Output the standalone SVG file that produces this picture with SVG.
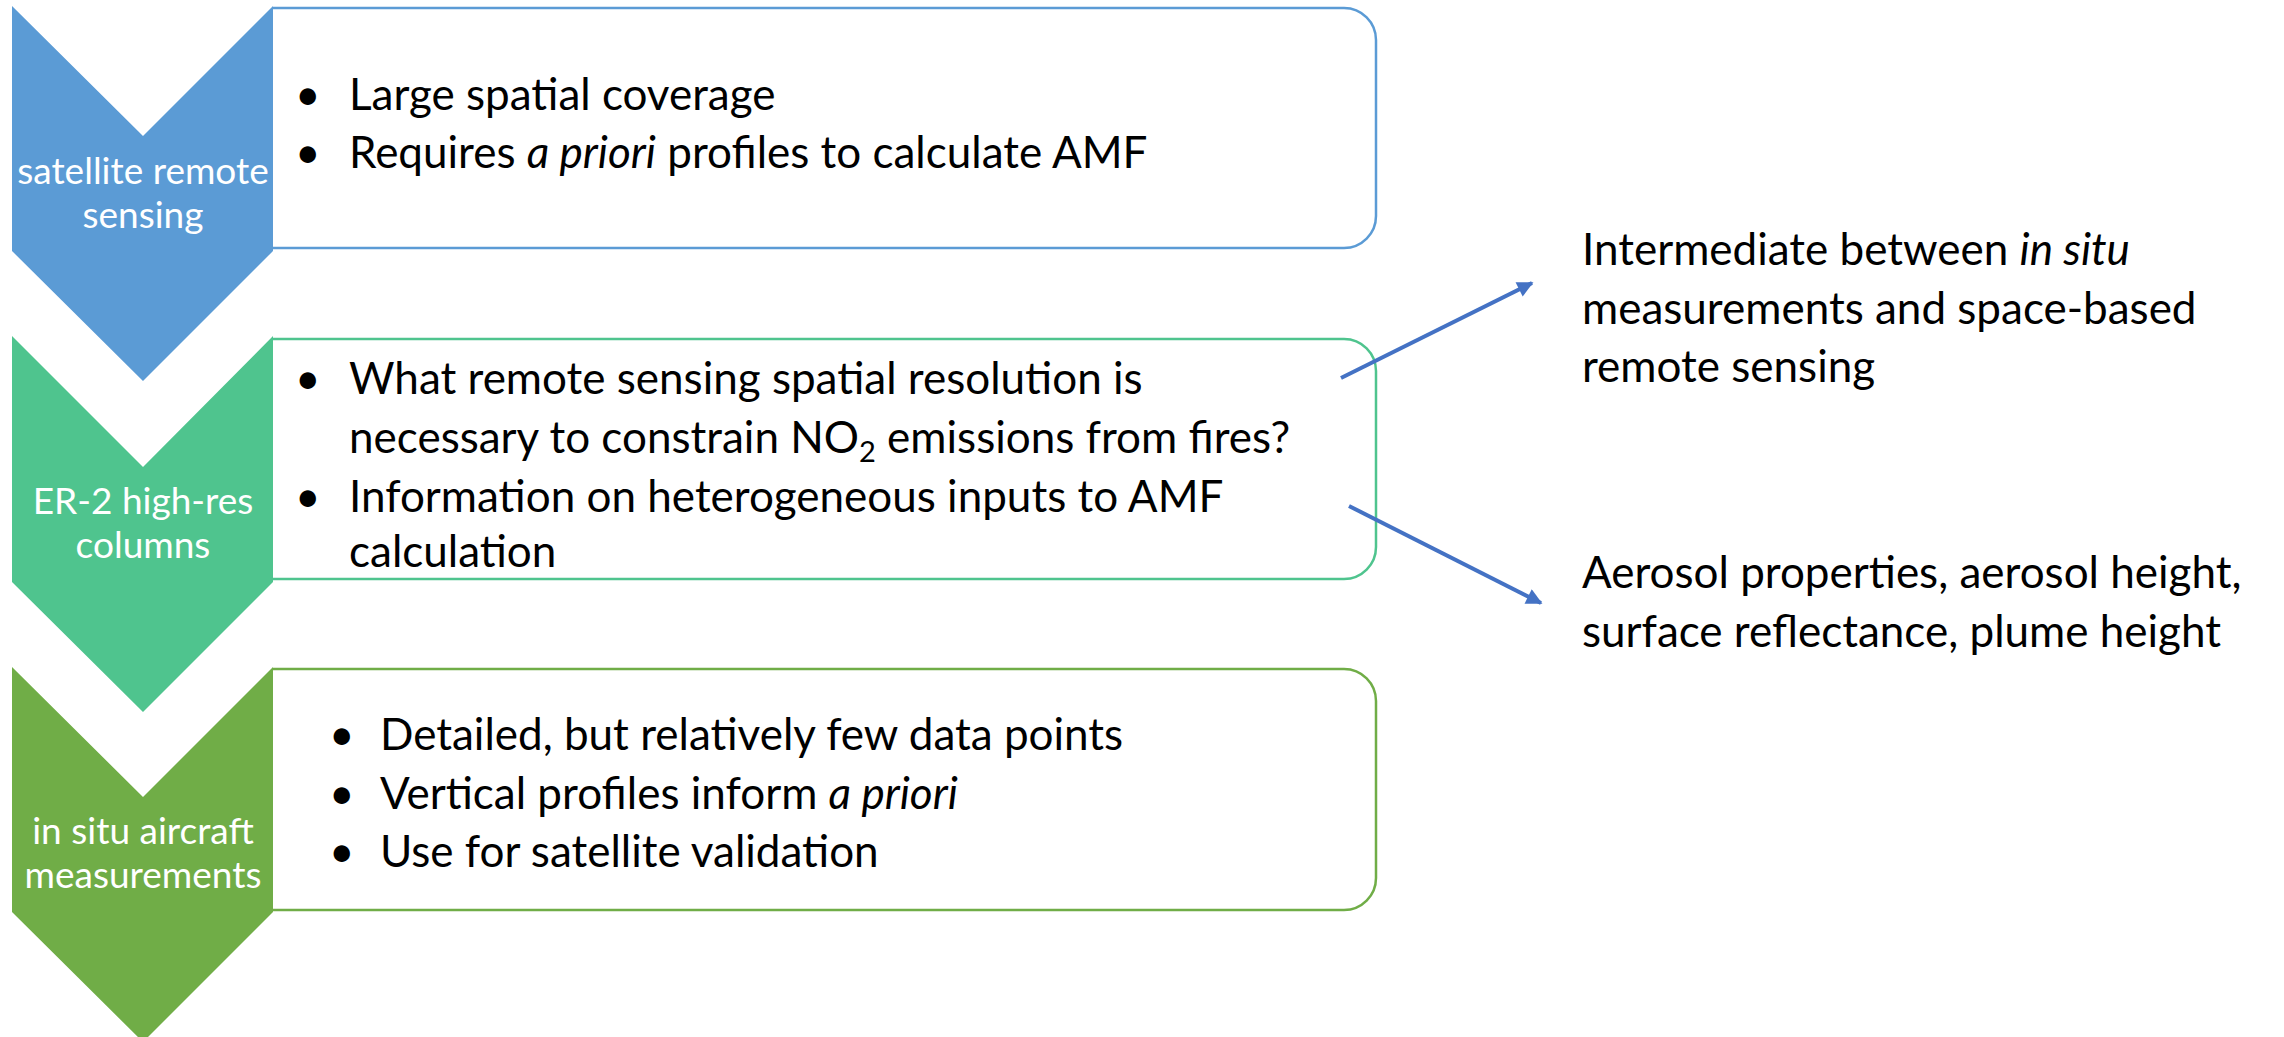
<svg xmlns="http://www.w3.org/2000/svg" width="2284" height="1037" viewBox="0 0 2284 1037">
<defs>
<style>
.body{font-family:Lato,"Open Sans","Liberation Sans",sans-serif;font-size:44px;fill:#000}
.lbl{font-family:Lato,"Open Sans","Liberation Sans",sans-serif;font-size:37px;fill:#fff;text-anchor:middle}
.box{fill:#fff;stroke-width:2.5}
.conn{stroke:#4472C4;stroke-width:4;fill:none;marker-end:url(#ah)}
</style>
<marker id="ah" viewBox="0 0 10 10" refX="9" refY="5" markerWidth="4.5" markerHeight="4" orient="auto" markerUnits="strokeWidth">
<path d="M0,0 L10,5 L0,10 z" fill="#4472C4"/>
</marker>
</defs>
<rect width="2284" height="1037" fill="#fff"/>

<g id="node-satellite">
<path class="box" stroke="#5B9BD5" d="M273,8 H1344 A32,32 0 0 1 1376,40 V216 A32,32 0 0 1 1344,248 H273"/>
<polygon fill="#5B9BD5" points="12,6 143,136 273,6 273,251 143,381 12,251"/>
<text class="lbl" x="143" y="184">satellite remote</text>
<text class="lbl" x="143" y="228">sensing</text>
<text class="body" x="295" y="110">•</text>
<text class="body" x="349" y="110">Large spatial coverage</text>
<text class="body" x="295" y="168">•</text>
<text class="body" x="349" y="168">Requires <tspan font-style="italic">a priori</tspan> profiles to calculate AMF</text>
</g>

<g id="node-er2">
<path class="box" stroke="#4FC48E" d="M273,339 H1344 A32,32 0 0 1 1376,371 V547 A32,32 0 0 1 1344,579 H273"/>
<polygon fill="#4FC48E" points="12,336 143,467 273,336 273,582 143,712 12,582"/>
<text class="lbl" x="143" y="514">ER-2 high-res</text>
<text class="lbl" x="143" y="558">columns</text>
<text class="body" x="295" y="394">•</text>
<text class="body" x="349" y="394">What remote sensing spatial resolution is</text>
<text class="body" x="349" y="453">necessary to constrain NO<tspan font-size="29" dy="9">2</tspan><tspan dy="-9"> emissions from fires?</tspan></text>
<text class="body" x="295" y="512">•</text>
<text class="body" x="349" y="512">Information on heterogeneous inputs to AMF</text>
<text class="body" x="349" y="567">calculation</text>
</g>

<g id="node-insitu">
<path class="box" stroke="#70AD47" d="M273,669 H1344 A32,32 0 0 1 1376,701 V878 A32,32 0 0 1 1344,910 H273"/>
<polygon fill="#70AD47" points="12,667 143,797 273,667 273,912 143,1042 12,912"/>
<text class="lbl" x="143" y="844">in situ aircraft</text>
<text class="lbl" x="143" y="888">measurements</text>
<text class="body" x="329" y="750">•</text>
<text class="body" x="380" y="750">Detailed, but relatively few data points</text>
<text class="body" x="329" y="809">•</text>
<text class="body" x="380" y="809">Vertical profiles inform <tspan font-style="italic">a priori</tspan></text>
<text class="body" x="329" y="867">•</text>
<text class="body" x="380" y="867">Use for satellite validation</text>
</g>

<g id="node-intermediate">
<text class="body" x="1582" y="265">Intermediate between <tspan font-style="italic">in situ</tspan></text>
<text class="body" x="1582" y="324">measurements and space-based</text>
<text class="body" x="1582" y="382">remote sensing</text>
</g>

<g id="node-aerosol">
<text class="body" x="1582" y="588">Aerosol properties, aerosol height,</text>
<text class="body" x="1582" y="647">surface reflectance, plume height</text>
</g>

<g id="connectors">
<line class="conn" x1="1341" y1="378" x2="1532" y2="283"/>
<line class="conn" x1="1349" y1="506" x2="1541" y2="603"/>
</g>
</svg>
